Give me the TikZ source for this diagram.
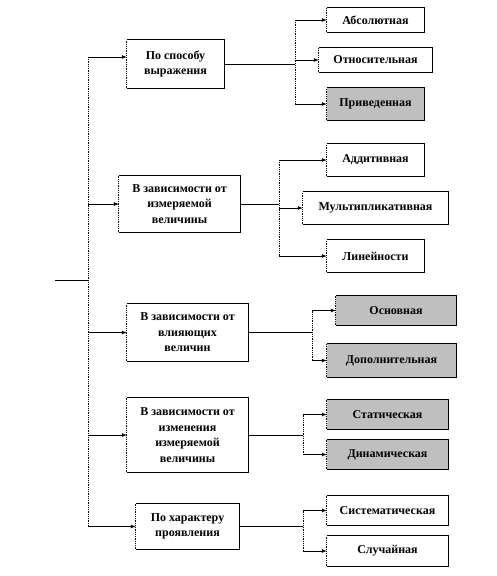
\documentclass[tikz,border=0pt]{standalone}
\usepackage{fontspec}
\setmainfont{Liberation Serif}
\usetikzlibrary{arrows.meta}

\begin{document}
\begin{tikzpicture}[x=1pt, y=-1pt, >={Latex[length=5pt,width=4pt]},
  box/.style={fill=white, inner sep=1pt, align=center,
    font=\bfseries\fontsize{12}{15.5}\selectfont},
  shaded/.style={box, fill=gray!50},
  line/.style={line width=0.8pt},
  vline/.style={line width=0.8pt, densely dotted},
  arr/.style={->, line width=0.8pt}]

\useasboundingbox (0,0) rectangle (496,576);

% --- LEFT COLUMN ---
\node[box, minimum width=97pt, minimum height=48pt] (b1) at (175.5,64) {По способу\\выражения};
\node[box, minimum width=121pt, minimum height=56pt] (b2) at (179.5,204) {В зависимости от\\измеряемой\\величины};
\node[box, minimum width=121pt, minimum height=57pt] (b3) at (187.5,332.5) {В зависимости от\\влияющих\\величин};
\node[box, minimum width=121pt, minimum height=74pt] (b4) at (187.5,435) {В зависимости от\\изменения\\измеряемой\\величины};
\node[box, minimum width=103pt, minimum height=45pt] (b5) at (187.5,526.5) {По характеру\\проявления};

% --- RIGHT COLUMN ---
\node[box, minimum width=97pt, minimum height=24pt] (c11) at (375.5,20) {Абсолютная};
\node[box, minimum width=113pt, minimum height=24pt] (c12) at (375.5,60) {Относительная};
\node[shaded, minimum width=97pt, minimum height=32pt] (c13) at (375.5,104) {Приведенная};

\node[box, minimum width=97pt, minimum height=32pt] (c21) at (375.5,160) {Аддитивная};
\node[box, minimum width=145pt, minimum height=32pt] (c22) at (375.5,208) {Мультипликативная};
\node[box, minimum width=97pt, minimum height=32pt] (c23) at (375.5,256) {Линейности};

\node[shaded, minimum width=120pt, minimum height=29pt] (c31) at (396,310.5) {Основная};
\node[shaded, minimum width=129pt, minimum height=33pt] (c32) at (391.5,360.5) {Дополнительная};

\node[shaded, minimum width=121pt, minimum height=29pt] (c41) at (387.5,414.5) {Статическая};
\node[shaded, minimum width=121pt, minimum height=29pt] (c42) at (387.5,454.5) {Динамическая};

\node[box, minimum width=121pt, minimum height=29pt] (c51) at (387.5,510.5) {Систематическая};
\node[box, minimum width=121pt, minimum height=30pt] (c52) at (387.5,551) {Случайная};

% --- BOX BORDERS (left side dotted) ---
\foreach \n in {b1,b2,b3,b4,b5,c11,c12,c13,c21,c22,c23,c31,c32,c41,c42,c51,c52} {
  \draw[line] (\n.north west) -- (\n.north east) -- (\n.south east) -- (\n.south west);
  \draw[vline] (\n.south west) -- (\n.north west);
}

% --- TRUNK ---
\coordinate (s) at (55,280);
\coordinate (t1) at (88,57);
\draw[line] (s) -- (s -| t1);
\draw[vline] (t1) -- (t1 |- b5.west);
\draw[arr] (t1) -- (t1 -| b1.west);
\foreach \b in {b2,b3,b4,b5}
  \draw[arr] (t1 |- \b.west) -- (\b.west);

% --- BRANCHES ---
\coordinate (j1) at (295,0);
\coordinate (j2) at (279,0);
\coordinate (j3) at (312,0);
\coordinate (j4) at (303,0);
\coordinate (j5) at (303,0);

\foreach \p/\j/\first/\last/\kids in {b1/j1/c11/c13/{c11,c12,c13}, b2/j2/c21/c23/{c21,c22,c23},
    b3/j3/c31/c32/{c31,c32}, b4/j4/c41/c42/{c41,c42}, b5/j5/c51/c52/{c51,c52}} {
  \draw[line] (\p.east) -- (\p.east -| \j);
  \draw[vline] (\j |- \first.west) -- (\j |- \last.west);
  \foreach \c in \kids
    \draw[arr] (\j |- \c.west) -- (\c.west);
}

\end{tikzpicture}
\end{document}
